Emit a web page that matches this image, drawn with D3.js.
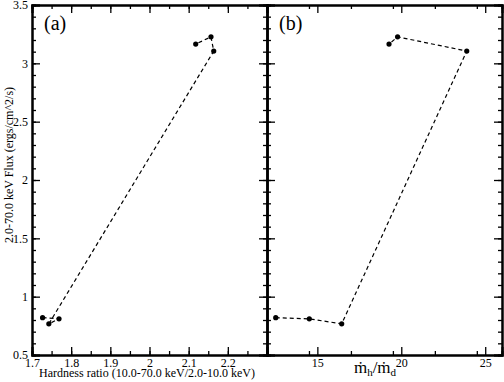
<!DOCTYPE html>
<html>
<head>
<meta charset="utf-8">
<script src="https://cdn.jsdelivr.net/npm/d3@7"></script>
<style>
body { margin: 0; background: #fff; }
svg { display: block; font-family: "Liberation Serif", "Times New Roman", serif; }
</style>
</head>
<body>
<div id="chart"></div>
<script>
// time-ordered observations (same order for both panels)
var hardness = [1.727, 1.769, 1.743, 2.164, 2.157, 2.118];
var mdotRatio = [12.52, 14.52, 16.45, 23.9, 19.78, 19.27];
var flux = [0.82, 0.81, 0.767, 3.105, 3.227, 3.165];

var hardnessTicks = [1.7, 1.8, 1.9, 2.0, 2.1, 2.2];
var mdotTicks = [15, 20, 25];
var fluxTicks = [0.5, 1, 1.5, 2, 2.5, 3, 3.5];

var width = 504, height = 382;
var plotTop = 5, plotBottom = 355, plotLeft = 32, plotMid = 267, plotRight = 502;

var svg = d3.select("#chart").append("svg")
    .attr("width", width)
    .attr("height", height);

var y = d3.scaleLinear().domain([0.5, 3.5]).range([plotBottom, plotTop]);

function minorTicks(lo, hi, step) {
    var out = [];
    for (var v = lo; v <= hi + 1e-9; v += step) out.push(+v.toFixed(4));
    return out;
}

function drawPanel(xDomain, xVals, majorX, minorStep, x0, x1, tag, showYLabels) {
    var x = d3.scaleLinear().domain(xDomain).range([x0, x1]);
    var g = svg.append("g");
    var fmt = function (d) { return String(d); };

    // minor ticks
    var mx = minorTicks(xDomain[0], xDomain[1], minorStep);
    var my = minorTicks(0.5, 3.5, 0.1);
    g.append("g").attr("class", "axis").attr("transform", "translate(0," + plotBottom + ")")
        .call(d3.axisBottom(x).tickValues(mx).tickSize(-4).tickFormat(""));
    g.append("g").attr("class", "axis").attr("transform", "translate(0," + plotTop + ")")
        .call(d3.axisTop(x).tickValues(mx).tickSize(-4).tickFormat(""));
    g.append("g").attr("class", "axis").attr("transform", "translate(" + x0 + ",0)")
        .call(d3.axisLeft(y).tickValues(my).tickSize(-4).tickFormat(""));
    g.append("g").attr("class", "axis").attr("transform", "translate(" + x1 + ",0)")
        .call(d3.axisRight(y).tickValues(my).tickSize(-4).tickFormat(""));

    // major ticks
    g.append("g").attr("class", "axis").attr("transform", "translate(0," + plotBottom + ")")
        .call(d3.axisBottom(x).tickValues(majorX).tickSize(-8).tickPadding(3).tickFormat(fmt));
    g.append("g").attr("class", "axis").attr("transform", "translate(0," + plotTop + ")")
        .call(d3.axisTop(x).tickValues(majorX).tickSize(-8).tickFormat(""));
    g.append("g").attr("class", "axis").attr("transform", "translate(" + x0 + ",0)")
        .call(d3.axisLeft(y).tickValues(fluxTicks).tickSize(-8).tickPadding(4).tickFormat(showYLabels ? fmt : ""));
    g.append("g").attr("class", "axis").attr("transform", "translate(" + x1 + ",0)")
        .call(d3.axisRight(y).tickValues(fluxTicks).tickSize(-8).tickFormat(""));

    g.selectAll(".axis text").attr("font-family", "Liberation Serif").attr("font-size", 12).attr("fill", "#000");
    g.selectAll(".axis .domain").attr("stroke-width", 2);
    g.selectAll(".axis line").attr("stroke-width", 1.3);

    var pts = xVals.map(function (v, i) { return [x(v), y(flux[i])]; });
    g.append("path")
        .attr("d", d3.line()(pts))
        .attr("fill", "none")
        .attr("stroke", "#000")
        .attr("stroke-width", 1.2)
        .attr("stroke-dasharray", "4,3");
    g.selectAll("circle").data(pts).enter().append("circle")
        .attr("cx", function (d) { return d[0]; })
        .attr("cy", function (d) { return d[1]; })
        .attr("r", 2.6)
        .attr("fill", "#000");

    g.append("text")
        .attr("x", x0 + 12)
        .attr("y", 30)
        .attr("font-size", 20)
        .text(tag);
    return x;
}

drawPanel([1.7, 2.3], hardness, hardnessTicks, 0.05, plotLeft, plotMid, "(a)", true);
drawPanel([12, 26], mdotRatio, mdotTicks, 2.5, plotMid, plotRight, "(b)", false);

// y axis label
svg.append("text")
    .attr("transform", "translate(13," + ((plotTop + plotBottom) / 2 - 15) + ") rotate(-90)")
    .attr("text-anchor", "middle")
    .attr("font-size", 12)
    .text("2.0-70.0 keV Flux (ergs/cm^2/s)");

// x labels
svg.append("text")
    .attr("x", 147)
    .attr("y", 377)
    .attr("text-anchor", "middle")
    .attr("font-size", 12)
    .text("Hardness ratio (10.0-70.0 keV/2.0-10.0 keV)");

var lb = svg.append("text")
    .attr("x", 375)
    .attr("y", 373)
    .attr("text-anchor", "middle")
    .attr("font-size", 17);
lb.append("tspan").text("\u1E41");
lb.append("tspan").attr("font-size", 11).attr("dy", 3).text("h");
lb.append("tspan").attr("dy", -3).text("/\u1E41");
lb.append("tspan").attr("font-size", 11).attr("dy", 3).text("d");
</script>
</body>
</html>
